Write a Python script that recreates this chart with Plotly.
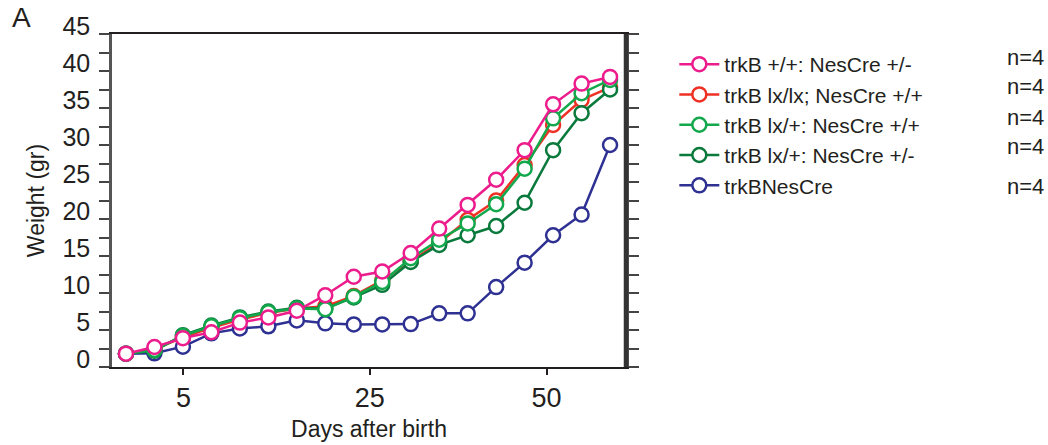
import plotly.graph_objects as go

# ---- data ----
sample_index = list(range(18))            # evenly spaced measurement points
tick_positions = [2.02, 8.56, 14.77]      # where the day labels sit on the axis
tick_labels = ["5", "25", "50"]

pink = [1.8, 2.7, 3.9, 4.7, 6.0, 6.7, 7.6, 9.7, 12.2, 12.9, 15.4, 18.7, 21.9, 25.3, 29.3, 35.5, 38.3, 39.2]
red = [1.8, 2.4, 4.0, 5.3, 6.4, 7.3, 7.9, 8.2, 9.6, 11.7, 14.3, 16.8, 19.9, 22.5, 27.3, 32.7, 36.1, 37.8]
light_green = [1.8, 2.3, 4.2, 5.5, 6.6, 7.4, 7.9, 7.8, 9.5, 11.5, 14.7, 17.2, 19.4, 22.0, 26.8, 33.6, 37.0, 38.8]
dark_green = [1.8, 2.2, 4.3, 5.6, 6.7, 7.5, 8.0, 7.9, 9.4, 11.1, 14.2, 16.5, 17.8, 19.05, 22.2, 29.3, 34.3, 37.5]
blue = [1.8, 1.85, 2.75, 4.55, 5.2, 5.5, 6.3, 5.9, 5.75, 5.75, 5.8, 7.25, 7.25, 10.8, 14.1, 17.8, 20.6, 30.0]

series_names = ["trkB +/+: NesCre +/-", "trkB lx/lx; NesCre +/+", "trkB lx/+: NesCre +/+",
                "trkB lx/+: NesCre +/-", "trkBNesCre"]
series_values = [pink, red, light_green, dark_green, blue]
series_colors = ["#EC1C8C", "#EE3124", "#12A84B", "#0A7A3C", "#2E3192"]
n_labels = ["n=4", "n=4", "n=4", "n=4", "n=4"]

FONT = "Liberation Sans, Arial, Helvetica, sans-serif"

fig = go.Figure()
# draw order: blue bottom, pink on top
draw_order = [4, 1, 3, 2, 0]
for k in draw_order:
    fig.add_trace(go.Scatter(
        x=sample_index, y=series_values[k], name=series_names[k],
        mode="lines+markers", legendrank=k + 1,
        line=dict(color=series_colors[k], width=2.5),
        marker=dict(symbol="circle", size=14, color="white",
                    line=dict(color=series_colors[k], width=2.5)),
    ))

fig.update_layout(
    width=1048, height=445,
    margin=dict(l=112, r=422, t=34, b=78),
    paper_bgcolor="white", plot_bgcolor="white",
    font=dict(family=FONT, color="#231f20"),
    showlegend=True,
    legend=dict(x=1.094, xanchor="left", y=0.97, yanchor="top",
                font=dict(size=21, family=FONT, color="#231f20"),
                itemwidth=40, tracegroupgap=0, bgcolor="rgba(0,0,0,0)"),
    xaxis=dict(range=[-0.49, 17.56], tickmode="array", tickvals=tick_positions,
               ticktext=tick_labels, ticks="outside", ticklen=6, tickwidth=2,
               tickcolor="#231f20", showline=True, linewidth=2, linecolor="#231f20",
               mirror=True, showgrid=False, zeroline=False, automargin=False,
               tickfont=dict(size=27, family=FONT, color="#231f20"),
               title=dict(text="Days after birth", font=dict(size=23, family=FONT, color="#231f20"),
                          standoff=8)),
    xaxis2=dict(range=[-0.49, 17.56], overlaying="x", anchor="y", side="bottom",
                tickmode="array", tickvals=tick_positions, ticks="inside", ticklen=8,
                tickwidth=2, tickcolor="#231f20", showticklabels=False, showline=False,
                showgrid=False, zeroline=False),
    yaxis=dict(range=[0, 45], tick0=0, dtick=5, ticks="outside", ticklen=10, tickwidth=1.5,
               tickcolor="#444", showline=True, linewidth=2.5, linecolor="#555",
               mirror="ticks", showgrid=False, zeroline=False, automargin=False,
               minor=dict(dtick=2.5, ticks="outside", ticklen=10, tickwidth=1.5, tickcolor="#444"),
               ticklabelshift=-8, ticklabelstandoff=4,
               tickfont=dict(size=25, family=FONT, color="#231f20"),
               title=dict(text="Weight (gr)", font=dict(size=23, family=FONT, color="#231f20"),
                          standoff=12)),
)

# thick right frame line
fig.add_shape(type="line", xref="paper", yref="paper", x0=1, x1=1, y0=0, y1=1,
              line=dict(color="#333", width=4.5))

# panel letter
fig.add_annotation(text="A", xref="paper", yref="paper", x=(21 - 112) / 514, y=(367 - 18) / 333,
                   xanchor="center", yanchor="middle", showarrow=False,
                   font=dict(size=28, family=FONT, color="#231f20"))

# n=4 labels
n_y_px = [57, 86, 117, 146, 186]
for lab, ypx in zip(n_labels, n_y_px):
    fig.add_annotation(text=lab, xref="paper", yref="paper",
                       x=(1046 - 112) / 514, y=(367 - ypx) / 333,
                       xanchor="right", yanchor="middle", showarrow=False,
                       font=dict(size=22, family=FONT, color="#231f20"))

fig.write_html("out.html")
